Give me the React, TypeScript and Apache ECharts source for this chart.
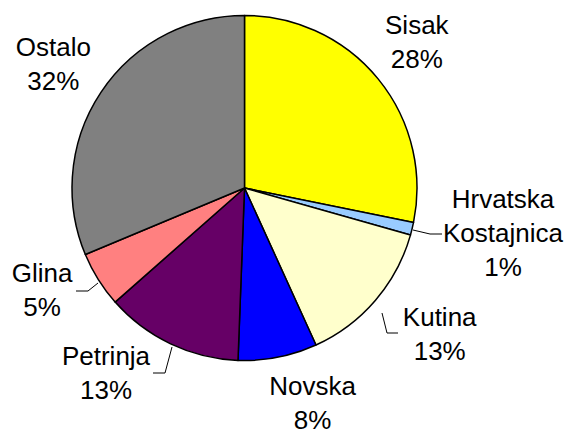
import React, { useEffect, useRef } from "react";
import * as echarts from "echarts";

const categories = ["Sisak", "Hrvatska\nKostajnica", "Kutina", "Novska", "Petrinja", "Glina", "Ostalo"];
const values = [28.2, 1.2, 13.8, 7.4, 12.9, 5.2, 31.3];
const pctLabels = ["28%", "1%", "13%", "8%", "13%", "5%", "32%"];
const colors = ["#FFFF00", "#99CCFF", "#FFFFCC", "#0000FF", "#660066", "#FF8080", "#808080"];

// label layout (block centres) and leader lines, in pixels
const labelPos: [number, number][] = [
  [416.8, 41.5],
  [503, 233],
  [439.7, 334],
  [312.5, 402.5],
  [106, 372.5],
  [42, 290],
  [53.3, 64],
];
const leaderLines: (number[][] | null)[] = [
  null,
  [[413, 230], [430, 234], [442, 234]],
  [[382, 313], [387, 333], [398, 333]],
  null,
  [[172, 347], [165, 373], [153, 373]],
  [[98, 283], [88, 291], [76, 291]],
  null,
];

export default function App() {
  const ref = useRef<HTMLDivElement>(null);
  useEffect(() => {
    if (!ref.current) return;
    const chart = echarts.init(ref.current, undefined, { renderer: "svg" });
    chart.setOption({
      animation: false,
      backgroundColor: "#ffffff",
      series: [
        {
          type: "pie",
          center: [244.5, 188],
          radius: 172.5,
          startAngle: 90,
          clockwise: true,
          avoidLabelOverlap: false,
          emphasis: { disabled: true },
          itemStyle: { borderColor: "#000000", borderWidth: 1.5 },
          label: {
            show: true,
            position: "outside",
            color: "#000000",
            fontFamily: "Arial, 'Liberation Sans', sans-serif",
            fontSize: 26,
            lineHeight: 34,
            align: "center",
            formatter: (p: any) => `${categories[p.dataIndex]}\n${pctLabels[p.dataIndex]}`,
          },
          labelLine: { show: true, lineStyle: { color: "#000000", width: 1 } },
          labelLayout: (p: any) => {
            const i = p.dataIndex;
            const o: any = {
              x: labelPos[i][0],
              y: labelPos[i][1],
              align: "center",
              verticalAlign: "middle",
            };
            if (leaderLines[i]) o.labelLinePoints = leaderLines[i];
            return o;
          },
          data: values.map((v, i) => ({
            name: categories[i],
            value: v,
            itemStyle: { color: colors[i] },
            labelLine: { show: leaderLines[i] != null },
          })),
        },
      ],
    });
    return () => chart.dispose();
  }, []);
  return (
    <div
      ref={ref}
      style={{ position: "fixed", left: 0, top: 0, width: 565, height: 431 }}
    />
  );
}
